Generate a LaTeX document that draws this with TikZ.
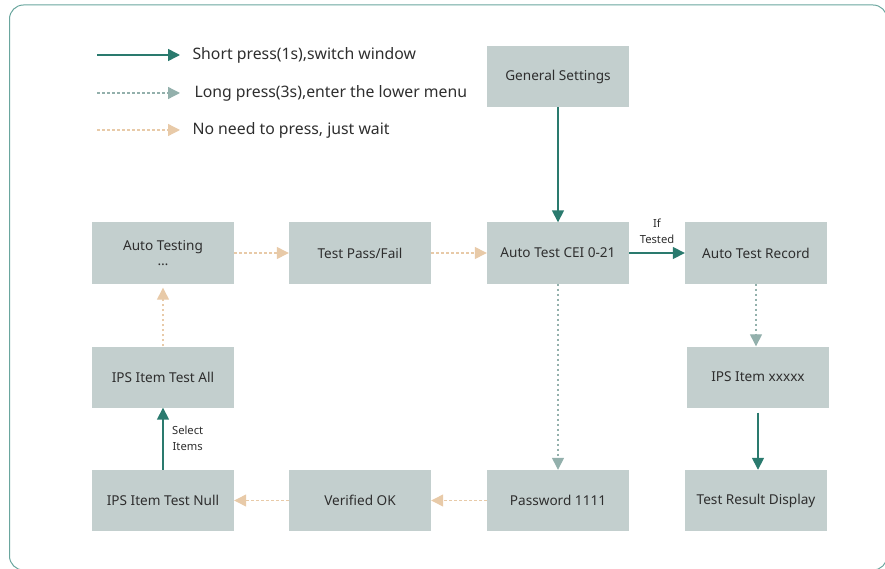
\documentclass[tikz,border=0pt]{standalone}
\usepackage{fontspec}
\setmainfont{Noto Sans}
\usepackage{tikz}
\usetikzlibrary{arrows.meta,positioning}
\definecolor{boxgray}{HTML}{C3CFCE}
\definecolor{teal1}{HTML}{2A7A6E}
\definecolor{grayteal}{HTML}{93B0AC}
\definecolor{tan1}{HTML}{E8CAA8}
\definecolor{frame1}{HTML}{6AA69E}
\definecolor{txt}{HTML}{2E2E2E}

\begin{document}
\begin{tikzpicture}[x=1pt,y=-1pt,font=\fontsize{13.6}{16}\selectfont,text=txt,
  b/.style={fill=boxgray,minimum width=142pt,minimum height=61pt,align=center,inner sep=2pt},
  short/.style={draw=teal1,line width=1.6pt,-{Triangle[length=12pt,width=12pt]}},
  long/.style={draw=grayteal,line width=1.3pt,dash pattern=on 2.5pt off 2.5pt,-{Triangle[length=12pt,width=12pt,fill=grayteal]}},
  wait/.style={draw=tan1,line width=1.3pt,dash pattern=on 2.5pt off 2.5pt,-{Triangle[length=12pt,width=12pt,fill=tan1]}},
  lbl/.style={font=\fontsize{11.2}{16}\selectfont,align=center}]
\useasboundingbox (0,0) rectangle (885,569);
\draw[frame1,line width=1pt,rounded corners=14pt] (9.5,5) rectangle (887,570);

% legend
\coordinate (l1) at (97,55);
\coordinate (l2) at (97,93);
\coordinate (l3) at (97,130);
\node[anchor=west,font=\fontsize{15.8}{18}\selectfont] (t1) at (189,55) {Short press(1s),switch window};
\node[anchor=west,font=\fontsize{15.8}{18}\selectfont] (t2) at (191,93) {Long press(3s),enter the lower menu};
\node[anchor=west,font=\fontsize{15.8}{18}\selectfont] (t3) at (189,130) {No need to press, just wait};
\draw[short,shorten >=9pt] (l1) -- (t1.west);
\draw[long,shorten >=11pt] (l2) -- (t2.west);
\draw[wait,shorten >=9pt] (l3) -- (t3.west);

% boxes
\node[b] (gen) at (558,76.5) {General Settings};
\node[b] (ating) at (163,253) {Auto Testing\\[-1pt]…};
\node[b] (pass) at (360,253) {Test Pass/Fail};
\node[b] (cei) at (558,253) {Auto Test CEI 0-21};
\node[b] (rec) at (756,253) {Auto Test Record};
\node[b] (all) at (163,377) {IPS Item Test All};
\node[b] (xx) at (758,377) {IPS Item xxxxx};
\node[b] (null) at (163,500.5) {IPS Item Test Null};
\node[b] (ok) at (360,500.5) {Verified OK};
\node[b] (pwd) at (558,500.5) {Password 1111};
\node[b] (res) at (756,500.5) {Test Result Display};

% connectors
\draw[short] (gen) -- (cei);
\draw[short] (cei) -- node[lbl,above=5pt] {If\\Tested} (rec);
\draw[long] (rec.south) -- (rec.south |- xx.north);
\draw[short,shorten <=5pt] (xx.south) -- (xx.south |- res.north);
\draw[long] (cei) -- (pwd);
\draw[wait] (pwd) -- (ok);
\draw[wait] (ok) -- (null);
\draw[short] (null) -- node[lbl,right=5pt] {Select\\Items} (all);
\draw[wait,shorten >=4pt] (all) -- (ating);
\draw[wait] (ating) -- (pass);
\draw[wait] (pass) -- (cei);
\end{tikzpicture}
\end{document}
